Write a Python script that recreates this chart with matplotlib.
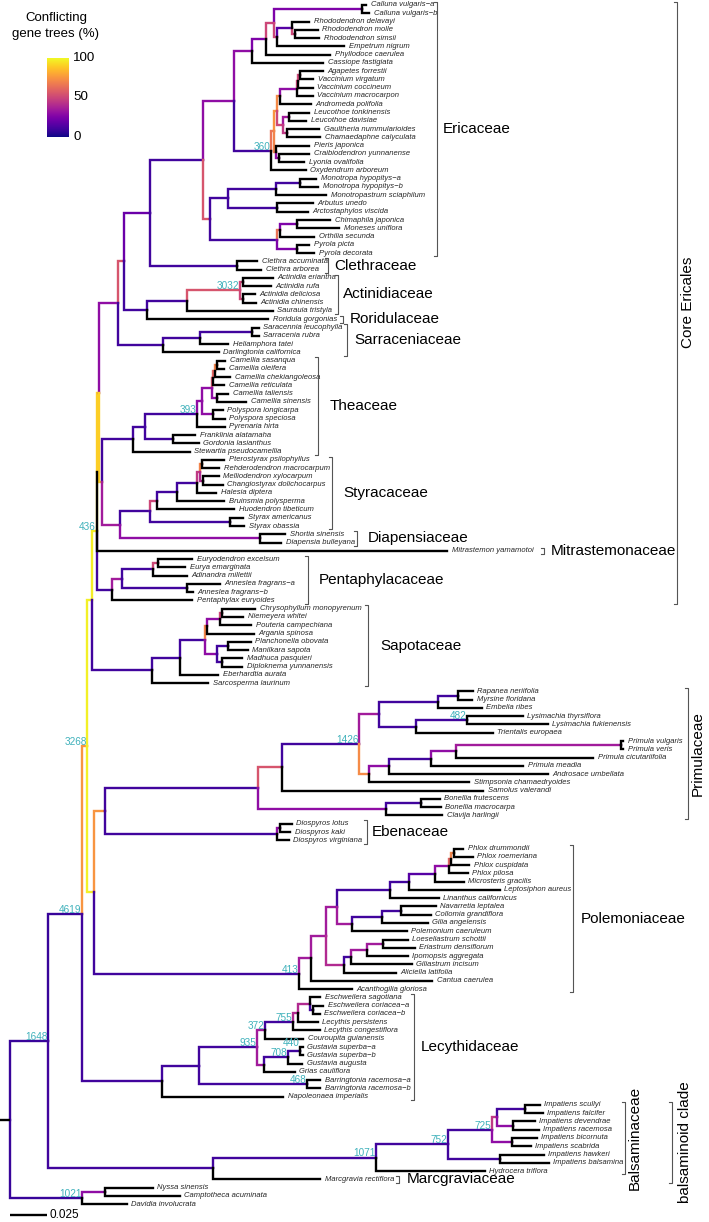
import matplotlib
matplotlib.use("Agg")
import matplotlib.pyplot as plt
import numpy as np
from matplotlib.collections import LineCollection

plt.rcParams['font.family'] = ['Liberation Sans', 'DejaVu Sans']

# ---------------- DATA ----------------
# Newick pieces; branch lengths in units of 0.001 substitutions/site.
# Internal node names: c<conflict %>[#<number of gene trees shown>]
ericoideae = ("((((Calluna_vulgaris-a:2.7,Calluna_vulgaris-b:4.7)c25:59.5,((Rhododendron_delavayi:11.5,"
              "(Rhododendron_molle:15.5,Rhododendron_simsii:16.2)c50:2.0)c15:10.1,Empetrum_nigrum:45.3)c50:2.0)c50:5.4,"
              "Phyllodoce_caerulea:43.2)c25:9.5,Cassiope_fastigiata:48)c30")
vaccinioideae = ("(((((((Agapetes_forrestii:15.5,Vaccinium_virgatum:8.8)c50:1.4,Vaccinium_coccineum:10.1)c50:0.7,"
                 "Vaccinium_macrocarpon:10.8)c30:11.5,Andromeda_polifolia:20.9)c72:2.0,((Leucothoe_tonkinensis:13.5,"
                 "Leucothoe_davisiae:11.5)c35:4.1,(Gaultheria_nummularioides:21.6,Chamaedaphne_calyculata:22.3)c45:2.7)c50:4.1)c75:2.0,"
                 "(Pieris_japonica:22.3,(Craibiodendron_yunnanense:20.3,Lyonia_ovalifolia:16.9)c30:2.0)c70:1.4)c65:2.0,"
                 "Oxydendrum_arboreum:23.6)c10#360")
monotropoideae = ("((((Monotropa_hypopitys-a:10.8,Monotropa_hypopitys-b:12.2)c10:16.2,Monotropastrum_sciaphilum:33.8)c10:32.4,"
                  "(Arbutus_unedo:24.3,Arctostaphylos_viscida:20.9)c10:33.1)c10:12.2,(((Chimaphila_japonica:22.3,"
                  "Moneses_uniflora:28.4)c25:11.5,Orthilia_secunda:23)c65:2.0,(Pyrola_picta:8.1,Pyrola_decorata:11.5)c25:13.5)c10:45.3)c55")
ericaceae = "((ERICOIDEAE:12.2,VACCINIOIDEAE:25)c30:20.9,MONOTROPOIDEAE:4.7)c10"
clethraceae = "(Clethra_accuminata:13.5,Clethra_arborea:16.2)c10"
actinidiaceae = ("(((Actinidia_eriantha:20.3,Actinidia_rufa:18.9)c50:2.0,(Actinidia_deliciosa:8.1,"
                 "Actinidia_chinensis:8.8)c50:2.0)c55#3032:35.8,Saurauia_tristyla:58.1)c10")
sarraceniaceae = ("(((Saracennia_leucophylla:4.7,Sarracenia_rubra:4.7)c10:35.1,Heliamphora_tatei:18.9)c10:25,"
                  "Darlingtonia_californica:37.8)c10")
theaceae = ("((((((((Camellia_sasanqua:5.4,Camellia_oleifera:4.7)c70:1.4,Camellia_chekiangoleosa:10.1)c60:1.4,"
            "Camellia_reticulata:7.4)c55:0.7,(Camellia_taliensis:7.4,Camellia_sinensis:19.6)c30:3.4)c30:6.8,"
            "(Polyspora_longicarpa:6.8,Polyspora_speciosa:8.1)c30:7.4)c30:3.4,Pyrenaria_hirta:18.9)c10#393:35.1,"
            "(Franklinia_alatamaha:14.9,Gordonia_lasianthus:17.6)c10:18.9)c10:8.1,Stewartia_pseudocamellia:38.5)c10")
styracaceae = ("((((((Pterostyrax_psilophyllus:14.9,Rehderodendron_macrocarpum:11.5)c70:1.4,(Melliodendron_xylocarpum:10.8,"
               "Changiostyrax_dolichocarpus:13.5)c40:2.0)c45:2.0,Halesia_diptera:12.8)c10:13.5,Bruinsmia_polysperma:31.8)c10:13.5,"
               "Huodendron_tibeticum:52)c50:4.7,(Styrax_americanus:8.8,Styrax_obassia:9.5)c10:54)c10")
diapensiaceae = "(Shortia_sinensis:16.9,Diapensia_bulleyana:14.2)c30"
pentaphylacaceae = ("((((Euryodendron_excelsum:23,Eurya_emarginata:18.2)c50:3.4,Adinandra_millettii:23)c10:20.9,"
                    "(Anneslea_fragrans-a:22.3,Anneslea_fragrans-b:4.1)c10:43.9)c35:6.8,Pentaphylax_euryoides:54)c10")
sapotaceae = ("((((((Chrysophyllum_monopyrenum:22.3,Niemeyera_whitei:14.2)c50:1.4,Pouteria_campechiana:20.9)c30:8.8,"
              "Argania_spinosa:31.8)c70:1.4,((Planchonella_obovata:15.5,Manilkara_sapota:13.5)c10:7.4,"
              "(Madhuca_pasquieri:13.5,Diploknema_yunnanensis:13.5)c10:3.4)c30:8.1)c10:16.9,Eberhardtia_aurata:25.7)c10:18.9,"
              "Sarcosperma_laurinum:37.8)c10")
primulaceae = ("((((((Rapanea_neriifolia:10.1,Myrsine_floridana:9.5)c10:13.5,Embelia_ribes:29.7)c10:39.9,"
               "((Lysimachia_thyrsiflora:37.8,Lysimachia_fukienensis:54.7)c10#482:34.5,Trientalis_europaea:52)c10:25)c35:13.5,"
               "(((((Primula_vulgaris:1.4,Primula_veris:1.4)c35:111.5,Primula_cicutariifolia:92.6)c30:16.9,Primula_meadia:62.2)c10:28.4,"
               "Androsace_umbellata:107.4)c30:13.5,Stimpsonia_chamaedryoides:67.6)c72:6.8)c10#1426:52,Samolus_valerandi:135.8)c55:16.2,"
               "((Bonellia_frutescens:12.8,Bonellia_macrocarpa:13.5)c10:23.6,Clavija_harlingii:37.8)c30:86.5)c10")
ebenaceae = "((Diospyros_lotus:8.1,Diospyros_kaki:6.8)c30:2.0,Diospyros_virginiana:8.1)c10"
polemoniaceae = ("((((((((((Phlox_drummondii:6.1,Phlox_roemeriana:12.8)c70:2.0,Phlox_cuspidata:12.2)c60:1.4,Phlox_pilosa:12.8)c30:9.5,"
                 "Microsteris_gracilis:19.6)c15:17.6,Leptosiphon_aureus:61.5)c10:12.8,Linanthus_californicus:33.1)c10:35.8,"
                 "(((Navarretia_leptalea:23.6,Collomia_grandiflora:20.3)c10:12.8,Gilia_angelensis:31.1)c10:20.3,"
                 "Polemonium_caeruleum:37.2)c35:10.1)c35:7.4,((((Loeseliastrum_schottii:16.9,Eriastrum_densiflorum:21.6)c35:10.8,"
                 "Ipomopsis_aggregata:27.7)c35:10.8,Giliastrum_incisum:41.2)c10:4.7,Aliciella_latifolia:35.1)c40:12.2)c35:10.1,"
                 "Cantua_caerulea:81.8)c35:8.1,Acanthogilia_gloriosa:35.8)c10#413")
lecythidaceae = ("(((((((Eschweilera_sagotiana:6.8,(Eschweilera_coriacea-a:6.8,Eschweilera_coriacea-b:4.7)c10:2.0)c40:8.1,"
                 "Lecythis_persistens:13.5)c40:3.4,Lecythis_congestiflora:18.2)c10#755:18.9,Couroupita_guianensis:25.7)c35#372:5.4,"
                 "(((Gustavia_superba-a:2.0,Gustavia_superba-b:2.0)c10#440:8.1,Gustavia_augusta:9.5)c10#708:16.2,"
                 "Grias_cauliflora:20.9)c35:4.7)c10#935:39.2,(Barringtonia_racemosa-a:8.8,Barringtonia_racemosa-b:8.8)c10#468:73)c10:25,"
                 "Napoleonaea_imperialis:81.8)c10")
balsaminaceae = ("(((((Impatiens_scullyi:10.1,Impatiens_falcifer:12.2)c10:18.9,(Impatiens_devendrae:14.9,"
                 "Impatiens_racemosa:17.6)c30:10.8)c45:3.4,(Impatiens_bicornuta:16.9,Impatiens_scabrida:12.8)c30:13.5)c10#725:29.7,"
                 "(Impatiens_hawkeri:29.7,Impatiens_balsamina:33.1)c10:35.1)c10#752:48.6,Hydrocera_triflora:73.6)c10#1071")
cornales = "((Nyssa_sinensis:32.4,Camptotheca_acuminata:50.7)c30:15.5,Davidia_involucrata:30.4)c8#1021"
backbone = ("(((((((((((ERICACEAE:35.8,CLETHRACEAE:58.8)c20:17.6,(ACTINIDIACEAE:27,Roridula_gorgonias:81.8)c10:15.5)c55:4.1,"
            "SARRACENIACEAE:30.4)c30:12.8,(THEACEAE:20.9,(STYRACACEAE:20.3,DIAPENSIACEAE:94.6)c35:12.2)c90:2.0)c90:1.4,"
            "Mitrastemon_yamamotoi:236.5)c97:0.3,PENTAPHYLACACEAE:10.5)c97#436:3.0,SAPOTACEAE:40.5)c98:3.4,"
            "((PRIMULACEAE:103.4,EBENACEAE:116.2)c75:7.4,POLEMONIACEAE:138.5)c98:4.7)c75#3268:3.4,LECYTHIDACEAE:54)c8#4619:23,"
            "(BALSAMINACEAE:110.1,Marcgravia_rectiflora:72.3)c10:111.5)c8#1648:25.7,CORNALES:48.6)")
length_unit = 0.001

family_names = ['Ericaceae', 'Clethraceae', 'Actinidiaceae', 'Roridulaceae', 'Sarraceniaceae', 'Theaceae',
                'Styracaceae', 'Diapensiaceae', 'Mitrastemonaceae', 'Pentaphylacaceae', 'Sapotaceae',
                'Primulaceae', 'Ebenaceae', 'Polemoniaceae', 'Lecythidaceae', 'Marcgraviaceae',
                'Balsaminaceae', 'balsaminoid clade', 'Core Ericales']
family_first = ['Calluna vulgaris-a', 'Clethra accuminata', 'Actinidia eriantha', 'Roridula gorgonias',
                'Saracennia leucophylla', 'Camellia sasanqua', 'Pterostyrax psilophyllus', 'Shortia sinensis',
                'Mitrastemon yamamotoi', 'Euryodendron excelsum', 'Chrysophyllum monopyrenum', 'Rapanea neriifolia',
                'Diospyros lotus', 'Phlox drummondii', 'Eschweilera sagotiana', 'Marcgravia rectiflora',
                'Impatiens scullyi', 'Impatiens scullyi', 'Calluna vulgaris-a']
family_last = ['Pyrola decorata', 'Clethra arborea', 'Saurauia tristyla', 'Roridula gorgonias',
               'Darlingtonia californica', 'Stewartia pseudocamellia', 'Styrax obassia', 'Diapensia bulleyana',
               'Mitrastemon yamamotoi', 'Pentaphylax euryoides', 'Sarcosperma laurinum', 'Clavija harlingii',
               'Diospyros virginiana', 'Acanthogilia gloriosa', 'Napoleonaea imperialis', 'Marcgravia rectiflora',
               'Hydrocera triflora', 'Marcgravia rectiflora', 'Pentaphylax euryoides']

legend_ticks = [0, 50, 100]
scale_bar_length = 0.025

# ---------------- LAYOUT (pixels) ----------------
W, H = 709, 1222
ROOT_PX, PX_PER_UNIT = 10, 1480.0
TIP0_PX, TIP_STEP = 5.0, 8.27
bracket_px = [437, 328, 338, 343, 347, 318, 332, 357, 544, 308, 368, 688, 367, 573, 414, 399, 625, 672, 677]
label_px = [443, 334, 343, 350, 354, 330, 343, 368, 551, 319, 380, 698, 372, 581, 421, 407, 635, 685, 688]
rotated = [False] * 11 + [True] + [False] * 4 + [True, True, True]
node_label_nudge = {'440': -0.45}   # extra vertical offset (tip units) to keep crowded labels apart

def X(px):
    return (px - ROOT_PX) / PX_PER_UNIT

def Y(py):
    return (py - TIP0_PX) / TIP_STEP

# ---------------- TREE ----------------
pieces = {'ERICOIDEAE': ericoideae, 'VACCINIOIDEAE': vaccinioideae, 'MONOTROPOIDEAE': monotropoideae,
          'ERICACEAE': ericaceae, 'CLETHRACEAE': clethraceae, 'ACTINIDIACEAE': actinidiaceae,
          'SARRACENIACEAE': sarraceniaceae, 'THEACEAE': theaceae, 'STYRACACEAE': styracaceae,
          'DIAPENSIACEAE': diapensiaceae, 'PENTAPHYLACACEAE': pentaphylacaceae, 'SAPOTACEAE': sapotaceae,
          'PRIMULACEAE': primulaceae, 'EBENACEAE': ebenaceae, 'POLEMONIACEAE': polemoniaceae,
          'LECYTHIDACEAE': lecythidaceae, 'BALSAMINACEAE': balsaminaceae, 'CORNALES': cornales}
newick = backbone
changed = True
while changed:
    changed = False
    for k, v in pieces.items():
        if k in newick:
            newick = newick.replace(k, v)
            changed = True


def parse(s):
    pos = [0]

    def node():
        n = {'children': [], 'name': '', 'length': 0.0}
        if s[pos[0]] == '(':
            pos[0] += 1
            while True:
                n['children'].append(node())
                ch = s[pos[0]]
                pos[0] += 1
                if ch == ')':
                    break
        start = pos[0]
        while pos[0] < len(s) and s[pos[0]] not in ',():;':
            pos[0] += 1
        n['name'] = s[start:pos[0]]
        if pos[0] < len(s) and s[pos[0]] == ':':
            pos[0] += 1
            start = pos[0]
            while pos[0] < len(s) and s[pos[0]] not in ',();':
                pos[0] += 1
            n['length'] = float(s[start:pos[0]])
        return n
    return node()


root = parse(newick)
tips = []


def layout(n, x0):
    n['x'] = x0 + n['length'] * length_unit
    if n['children']:
        for c in n['children']:
            layout(c, n['x'])
        n['y'] = float(np.mean([c['y'] for c in n['children']]))
        conf, _, lab = n['name'][1:].partition('#')
        n['conflict'] = float(conf) if conf else 0.0
        n['label'] = lab
    else:
        n['y'] = float(len(tips))
        n['label'] = n['name'].replace('_', ' ')
        tips.append(n)


layout(root, 0.0)
tip_index = {t['label']: t['y'] for t in tips}

cmap = plt.get_cmap('plasma')
int_segs, int_cols, tip_segs, internals = [], [], [], []


def collect(n):
    if n['children'] and n is not root:
        internals.append(n)
    for c in n['children']:
        seg = [(n['x'], n['y']), (n['x'], c['y']), (c['x'], c['y'])]
        if c['children']:
            int_segs.append(seg)
            int_cols.append(cmap(c['conflict'] / 100.0))
        else:
            tip_segs.append(seg)
        collect(c)


collect(root)

fig = plt.figure(figsize=(W / 100, H / 100), dpi=100)
ax = fig.add_axes([0, 0, 1, 1])
ax.set_xlim(X(0), X(W))
ax.set_ylim(Y(H), Y(0))
ax.axis('off')

LW = 1.7
ax.add_collection(LineCollection(int_segs, colors=int_cols, linewidths=LW, capstyle='projecting',
                                 joinstyle='miter', zorder=2))
ax.add_collection(LineCollection(tip_segs, colors='black', linewidths=LW, capstyle='projecting',
                                 joinstyle='miter', zorder=3))
ax.plot([X(0), root['x']], [root['y'], root['y']], color='black', lw=LW, solid_capstyle='butt', zorder=3)

tip_off = 4.5 / PX_PER_UNIT
for t in tips:
    ax.text(t['x'] + tip_off, t['y'], t['label'].replace('-', '\u2212'), fontsize=5.5, style='italic',
            ha='left', va='center', color='#262626', zorder=4)

for n in internals:
    if n['label']:
        dy = node_label_nudge.get(n['label'], 0.0)
        ax.text(n['x'] - 0.5 / PX_PER_UNIT, n['y'] - 0.5 + dy, n['label'], fontsize=7.2, color='#3fb1bb',
                ha='right', va='center', zorder=5)

# clade brackets and labels
for name, a, b, bx, lx, rot in zip(family_names, family_first, family_last, bracket_px, label_px, rotated):
    y0, y1 = tip_index[a] - 0.4, tip_index[b] + 0.4
    xb = X(bx)
    tick = 3 / PX_PER_UNIT
    ax.plot([xb - tick, xb, xb, xb - tick], [y0, y0, y1, y1], color='#555555', lw=0.8, zorder=4)
    yc = (tip_index[a] + tip_index[b]) / 2
    if rot:
        ax.text(X(lx), yc, name, fontsize=11, rotation=90, ha='center', va='center', color='black')
    else:
        ax.text(X(lx), yc, name, fontsize=11, ha='left', va='center', color='black')

# scale bar
ysb = Y(1215)
ax.plot([0, scale_bar_length], [ysb, ysb], color='black', lw=1.7, solid_capstyle='butt')
ax.text(X(49), ysb, f'{scale_bar_length:g}', fontsize=8.5, ha='left', va='center')

# legend colourbar
bar_top, bar_bot = 58, 137
cax = fig.add_axes([47 / W, 1 - bar_bot / H, 22 / W, (bar_bot - bar_top) / H])
cax.imshow(np.linspace(100, 0, 300)[:, None], cmap=cmap, vmin=0, vmax=100, aspect='auto',
           extent=[0, 1, 0, 100])
cax.axis('off')
for v in legend_ticks:
    ypx = bar_bot - (bar_bot - bar_top) * v / 100.0
    fig.text(73 / W, 1 - ypx / H, str(v), fontsize=9.6, ha='left', va='center')
fig.text(56 / W, 1 - 18 / H, 'Conflicting', fontsize=9.5, ha='center', va='center')
fig.text(56 / W, 1 - 34 / H, 'gene trees (%)', fontsize=9.5, ha='center', va='center')

fig.savefig('out.png', dpi=100)
